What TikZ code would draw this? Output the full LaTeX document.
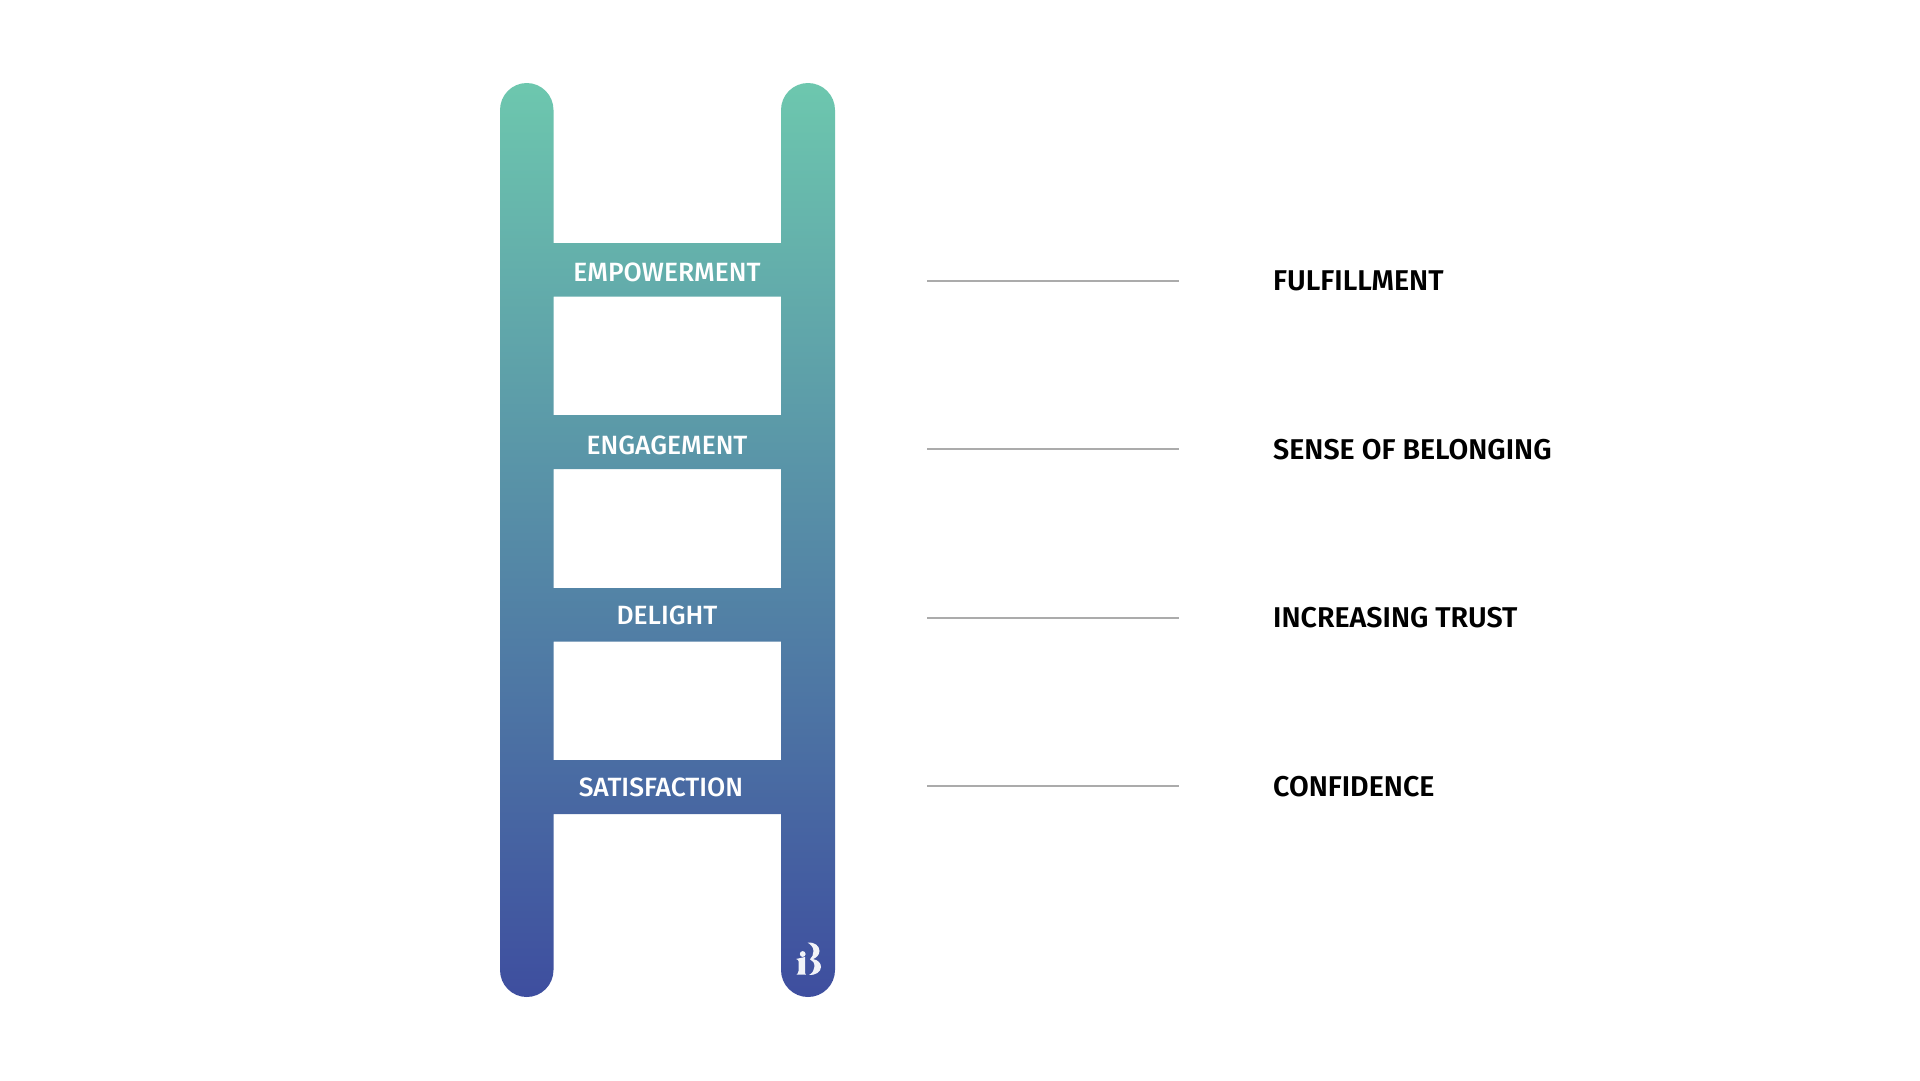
\documentclass[tikz,border=0pt]{standalone}
\usepackage{fontspec}
\setmainfont{Fira Sans}[UprightFont=* Medium,BoldFont=* SemiBold]
\definecolor{laddertop}{HTML}{6DC7AE}
\definecolor{ladderbot}{HTML}{3E4E9F}
\definecolor{linegray}{HTML}{ABABAB}
\tikzset{
  x=1pt,y=-1pt,
  ladder/.style={shade,top color=laddertop,bottom color=ladderbot,draw=none},
  runglabel/.style={text=white,font=\fontsize{26.4}{27}\selectfont,inner sep=0pt,anchor=center},
  sidelabel/.style={text=black,font=\fontsize{28.6}{29}\selectfont\bfseries,inner sep=0pt,anchor=west},
  leader/.style={draw=linegray,line width=2pt},
  logoink/.style={fill=white!93!ladderbot,draw=none}
}
\begin{document}
\begin{tikzpicture}
\useasboundingbox (0,0) rectangle (1920,1080);
\path[ladder]
 (500,110) arc[start angle=180,end angle=0,x radius=26.75,y radius=-27]
 -- (553.5,243) -- (781,243) -- (781,110)
 arc[start angle=180,end angle=0,x radius=27,y radius=-27]
 -- (835,970) arc[start angle=0,end angle=180,x radius=27,y radius=27]
 -- (781,814) -- (553.5,814) -- (553.5,970)
 arc[start angle=0,end angle=180,x radius=26.75,y radius=27]
 -- cycle
 (553.5,296.5) -- (553.5,415) -- (781,415) -- (781,296.5) -- cycle
 (553.5,469) -- (553.5,588) -- (781,588) -- (781,469) -- cycle
 (553.5,641.5) -- (553.5,760) -- (781,760) -- (781,641.5) -- cycle;
% logo
\path[logoink] (796,959) -- (805,957) -- (805,972) .. controls (805,973.5) and (805.5,974.3) .. (806,974.5) -- (796.5,974.5) .. controls (797.5,973.5) and (798.5,973) .. (798.5,971) -- (798.5,961) .. controls (798.5,960) and (797.5,959.5) .. (796,959) -- cycle;
\path[logoink] (802.7,954) circle[radius=2.9];
\path[logoink] (807.5,942.5) .. controls (815,942) and (819.5,946) .. (819.5,951) .. controls (819.5,955) and (816,958) .. (813,959)
 .. controls (818,960) and (821,963) .. (821,967) .. controls (821,972) and (815,975.5) .. (809,975)
 .. controls (812.5,973) and (814.5,970) .. (814.5,966.5) .. controls (814.5,963) and (813,960.5) .. (810,959.3)
 .. controls (812,957.5) and (813.5,954.5) .. (813.5,951) .. controls (813.5,947.5) and (811,944.5) .. (807.5,942.5) -- cycle;
% rung labels
\node[runglabel] (emp) at (667,272) {EMPOWERMENT};
\node[runglabel] (eng) at (667,445) {ENGAGEMENT};
\node[runglabel] (del) at (667,615) {DELIGHT};
\node[runglabel] (sat) at (661,787.5) {SATISFACTION};
% side labels
\node[sidelabel] (ful) at (1273,281) {FULFILLMENT};
\node[sidelabel] (sen) at (1273,450) {SENSE OF BELONGING};
\node[sidelabel] (inc) at (1273,618) {INCREASING TRUST};
\node[sidelabel] (con) at (1273,786.5) {CONFIDENCE};
% leaders
\coordinate (l1) at (927,281); \coordinate (r1) at (1179,281);
\coordinate (l2) at (927,449); \coordinate (r2) at (1179,449);
\coordinate (l3) at (927,618); \coordinate (r3) at (1179,618);
\coordinate (l4) at (927,786); \coordinate (r4) at (1179,786);
\draw[leader] (l1) -- (r1);
\draw[leader] (l2) -- (r2);
\draw[leader] (l3) -- (r3);
\draw[leader] (l4) -- (r4);
\end{tikzpicture}
\end{document}
